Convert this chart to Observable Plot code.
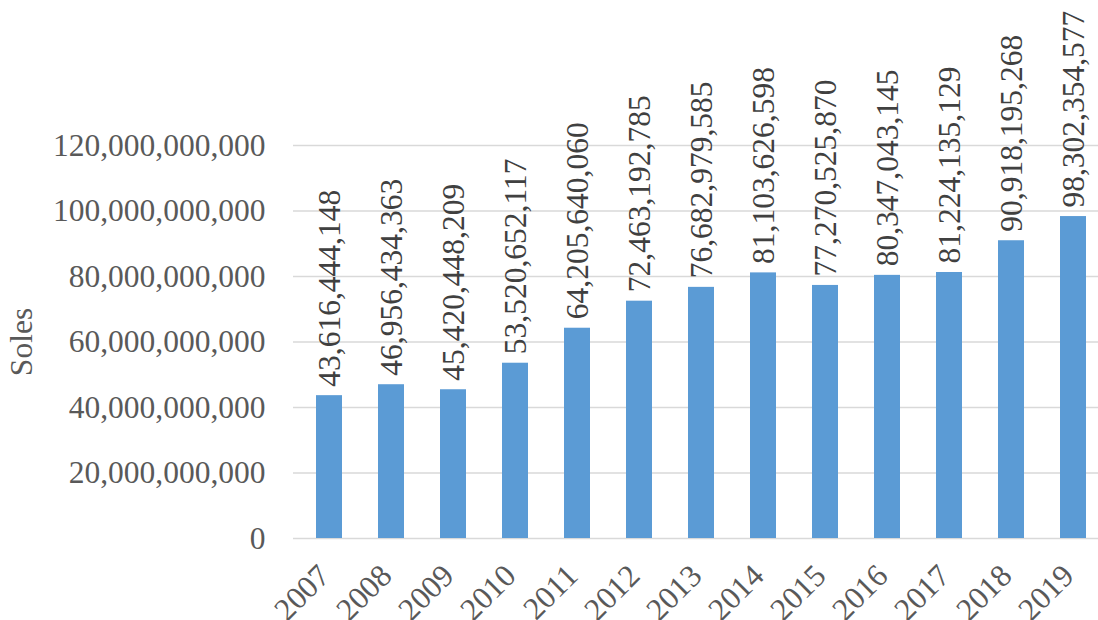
<!DOCTYPE html>
<html>
<head>
<meta charset="utf-8">
<script src="https://cdn.jsdelivr.net/npm/d3@7"></script>
<script src="https://cdn.jsdelivr.net/npm/@observablehq/plot@0.6"></script>
<style>
  html, body { margin: 0; padding: 0; background: #fff; }
  #chart svg { display: block; }
  #chart svg text { font-family: 'Liberation Serif', 'Times New Roman', serif; }
</style>
</head>
<body>
<div id="chart"></div>
<script>
const years = ["2007","2008","2009","2010","2011","2012","2013","2014","2015","2016","2017","2018","2019"];
const values = [43616444148, 46956434363, 45420448209, 53520652117, 64205640060, 72463192785, 76682979585, 81103626598, 77270525870, 80347043145, 81224135129, 90918195268, 98302354577];
const yTicks = [0, 20e9, 40e9, 60e9, 80e9, 100e9, 120e9];
const yLabel = "Soles";

const data = years.map((y, i) => ({year: y, value: values[i]}));
const fmt = d3.format(",");
const font = "'Liberation Serif', 'Times New Roman', serif";

const chart = Plot.plot({
  width: 1098,
  height: 620,
  marginTop: 145,
  marginBottom: 82,
  marginLeft: 293,
  marginRight: 0,
  style: {fontFamily: font, fontSize: "31px", color: "#595959", background: "#fff", overflow: "visible"},
  x: {domain: years, range: [293, 1109], paddingInner: 0.586, paddingOuter: 0.293, axis: null},
  y: {domain: [0, 120e9], axis: null},
  marks: [
    Plot.ruleY(yTicks, {stroke: "#d9d9d9", strokeWidth: 1.5}),
    Plot.barY(data, {x: "year", y: "value", fill: "#5b9bd5"}),
    Plot.axisY({ticks: yTicks, tickFormat: fmt, tickSize: 0, tickPadding: 28, fontSize: 31.5, fontFamily: font, fill: "#595959",
      label: yLabel, labelAnchor: "center", labelArrow: "none", labelOffset: 284}),
    Plot.text(data, {x: "year", y: "value", text: d => fmt(d.value), rotate: -90, textAnchor: "start",
      dy: -9, fontSize: 31.5, fontFamily: font, fill: "#404040"}),
    Plot.text(data, {x: "year", y: 0, text: "year", rotate: -45, textAnchor: "end",
      dx: -5, dy: 32, fontSize: 31.5, fontFamily: font, fill: "#595959"})
  ]
});
document.getElementById("chart").appendChild(chart);
</script>
</body>
</html>
